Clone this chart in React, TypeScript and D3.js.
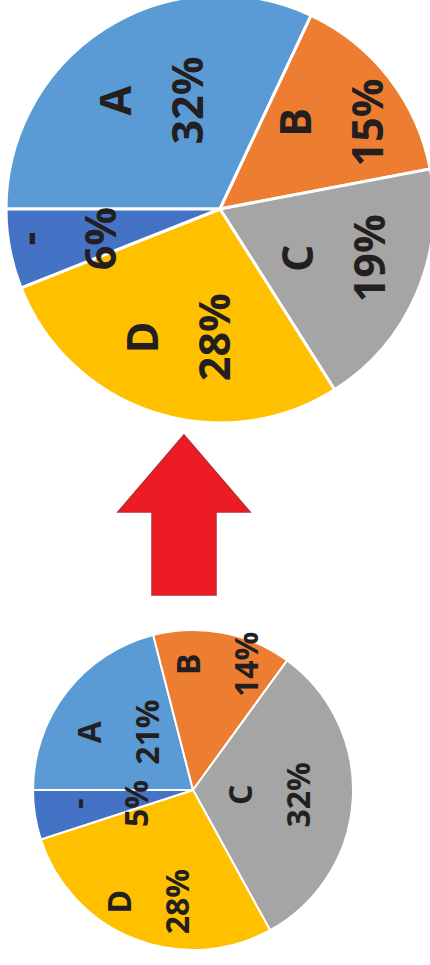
import React from "react";
import * as d3 from "d3";

const categories = ["A", "B", "C", "D", "-"];
const afterValues = [32, 15, 19, 28, 6];
const beforeValues = [21, 14, 32, 28, 5];
const colors = ["#5B9BD5", "#ED7D31", "#A5A5A5", "#FFC000", "#4472C4"];

// label placement as fraction of radius (layout, not data)
const afterLabelR = [0.6, 0.66, 0.58, 0.63, 0.74];
const beforeLabelR = [0.59, 0.8, 0.48, 0.75, 0.54];

type PieProps = {
  values: number[];
  cx: number;
  cy: number;
  r: number;
  font: number;
  gap: number;
  labelR: number[];
  stroke: number;
};

function Pie({ values, cx, cy, r, font, gap, labelR, stroke }: PieProps) {
  const pie = d3
    .pie<number>()
    .sort(null)
    .startAngle(-Math.PI / 2)
    .endAngle((3 * Math.PI) / 2);
  const arcs = pie(values);
  const arc = d3.arc<d3.PieArcDatum<number>>().innerRadius(0).outerRadius(r);
  const total = d3.sum(values);
  return (
    <g transform={`translate(${cx},${cy})`}>
      {arcs.map((a, i) => (
        <path
          key={i}
          d={arc(a) || ""}
          fill={colors[i]}
          stroke="#fff"
          strokeWidth={stroke}
          strokeLinejoin="round"
        />
      ))}
      {arcs.map((a, i) => {
        const mid = (a.startAngle + a.endAngle) / 2;
        const lr = r * labelR[i];
        const x = Math.sin(mid) * lr;
        const y = -Math.cos(mid) * lr;
        const pct = Math.round((a.value / total) * 100) + "%";
        return (
          <g key={"l" + i} transform={`translate(${x},${y}) rotate(-90)`}>
            <text
              x={0}
              y={-gap / 2}
              dy="0.36em"
              textAnchor="middle"
              fontFamily="'Open Sans', 'DejaVu Sans', sans-serif"
              fontWeight={700}
              fontSize={font}
              fill="#231F20"
            >
              {categories[i]}
            </text>
            <text
              x={0}
              y={gap / 2}
              dy="0.36em"
              textAnchor="middle"
              fontFamily="'Open Sans', 'DejaVu Sans', sans-serif"
              fontWeight={700}
              fontSize={font}
              fill="#231F20"
            >
              {pct}
            </text>
          </g>
        );
      })}
    </g>
  );
}

function Arrow() {
  const cx = 184;
  const tipY = 435;
  const headY = 512;
  const headHalf = 66;
  const shaftHalf = 32;
  const bottomY = 595;
  const pts: [number, number][] = [
    [cx, tipY],
    [cx + headHalf, headY],
    [cx + shaftHalf, headY],
    [cx + shaftHalf, bottomY],
    [cx - shaftHalf, bottomY],
    [cx - shaftHalf, headY],
    [cx - headHalf, headY],
  ];
  const line = d3.line().curve(d3.curveLinearClosed);
  return (
    <path
      d={line(pts) || ""}
      fill="#ED1C24"
      stroke="#C1272D"
      strokeWidth={1.5}
    />
  );
}

export default function App() {
  return (
    <svg
      width={430}
      height={965}
      style={{ position: "absolute", left: 0, top: 0, background: "#fff" }}
    >
      <rect width={430} height={965} fill="#fff" />
      <Pie
        values={afterValues}
        cx={220}
        cy={209}
        r={214}
        font={43}
        gap={72}
        labelR={afterLabelR}
        stroke={3}
      />
      <Arrow />
      <Pie
        values={beforeValues}
        cx={193}
        cy={790}
        r={160}
        font={32}
        gap={58}
        labelR={beforeLabelR}
        stroke={2}
      />
    </svg>
  );
}
